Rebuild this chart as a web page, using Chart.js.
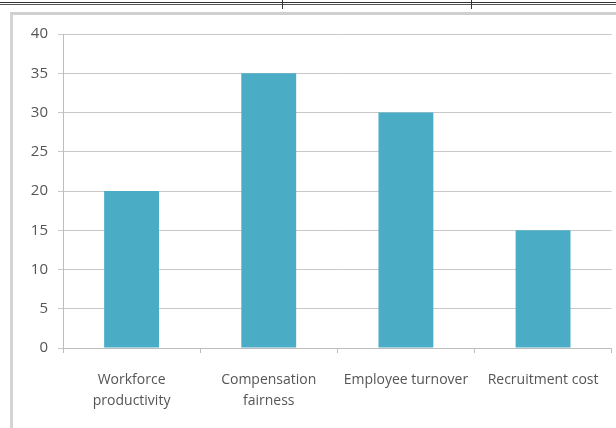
<!DOCTYPE html>
<html>
<head>
<meta charset="utf-8">
<script src="https://cdn.jsdelivr.net/npm/chart.js@4.4.0/dist/chart.umd.min.js"></script>
<style>
  html, body { margin: 0; padding: 0; background: #fff; }
  #wrap { position: relative; width: 616px; height: 428px; overflow: hidden; }
  #tableTop { position: absolute; left: 0; top: 2px; width: 616px; height: 1px; border-top: 1px solid #333; border-bottom: 1px solid #555; }
  .sep { position: absolute; top: 0; width: 1px; height: 9px; background: #333; }
  #frame { position: absolute; left: 10px; top: 12px; width: 620px; height: 430px; border-left: 3px solid #d4d4d4; border-top: 3px solid #cfcfcf; }
  canvas { position: absolute; left: 0; top: 0; }
</style>
</head>
<body>
<div id="wrap">
  <div id="tableTop"></div>
  <div class="sep" style="left:282px"></div>
  <div class="sep" style="left:471px"></div>
  <div id="frame"></div>
  <canvas id="hrChart" width="616" height="428"></canvas>
</div>
<script>
var categories = [['Workforce', 'productivity'], ['Compensation', 'fairness'], 'Employee turnover', 'Recruitment cost'];
var scores = [20, 35, 30, 15];
var yTicks = [0, 5, 10, 15, 20, 25, 30, 35, 40];

Chart.defaults.font.family = "'Open Sans', sans-serif";
Chart.defaults.color = '#555555';

var ctx = document.getElementById('hrChart').getContext('2d');
new Chart(ctx, {
    type: 'bar',
    data: {
        labels: categories,
        datasets: [{
            data: scores,
            backgroundColor: '#4bacc6',
            borderWidth: 0,
            barPercentage: 0.4,
            categoryPercentage: 1
        }]
    },
    options: {
        responsive: false,
        animation: false,
        layout: { padding: { left: 0, top: 34, right: 4, bottom: 0 } },
        plugins: {
            legend: { display: false },
            tooltip: { enabled: false }
        },
        scales: {
            x: {
                grid: { display: true, drawOnChartArea: false, tickLength: 5, color: '#bdbdbd', offset: true },
                border: { color: '#bdbdbd' },
                ticks: { padding: 17, font: { size: 14, lineHeight: 1.5 }, maxRotation: 0, autoSkip: false },
                afterFit: function (scale) { scale.height = 80; }
            },
            y: {
                min: 0,
                max: 40,
                afterBuildTicks: function (scale) {
                    scale.ticks = yTicks.map(function (v) { return { value: v }; });
                },
                grid: { color: '#c8c8c8', tickLength: 5 },
                border: { color: '#bdbdbd' },
                ticks: { padding: 10, font: { size: 15 } },
                afterFit: function (scale) { scale.width = 63; }
            }
        }
    }
});
</script>
</body>
</html>
